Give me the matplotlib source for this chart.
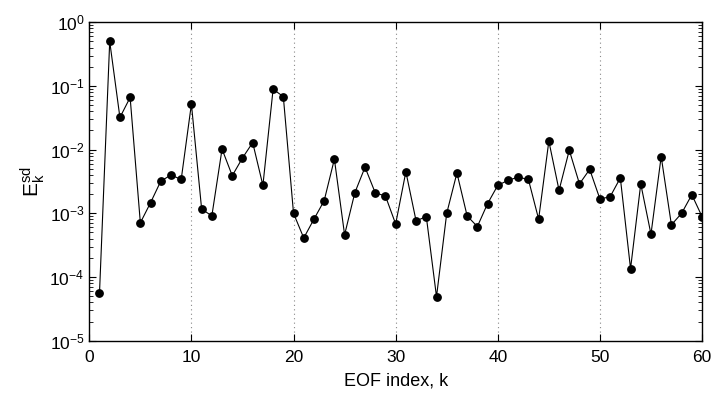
import matplotlib
matplotlib.use("Agg")
import matplotlib.pyplot as plt
from matplotlib.ticker import LogLocator, NullFormatter, FixedLocator

k = list(range(1, 61))
esd = [5.6e-5, 0.50, 0.032, 0.066, 7.1e-4, 1.47e-3, 3.2e-3, 4.0e-3, 3.4e-3, 0.052,
       1.17e-3, 9.1e-4, 0.0102, 3.9e-3, 7.4e-3, 0.0129, 2.75e-3, 0.089, 0.068, 1.0e-3,
       4.1e-4, 8.1e-4, 1.58e-3, 7.1e-3, 4.6e-4, 2.1e-3, 5.3e-3, 2.1e-3, 1.87e-3, 6.8e-4,
       4.5e-3, 7.6e-4, 8.9e-4, 4.9e-5, 1.0e-3, 4.3e-3, 9.1e-4, 6.2e-4, 1.42e-3, 2.75e-3,
       3.3e-3, 3.7e-3, 3.4e-3, 8.1e-4, 0.0136, 2.3e-3, 9.8e-3, 2.9e-3, 4.9e-3, 1.68e-3,
       1.82e-3, 3.6e-3, 1.35e-4, 2.9e-3, 4.7e-4, 7.8e-3, 6.6e-4, 1.0e-3, 1.96e-3, 8.9e-4]
xticks = [0, 10, 20, 30, 40, 50, 60]
grid_x = [10, 20, 30, 40, 50]

plt.rcParams['font.family'] = ['Liberation Sans', 'DejaVu Sans']
plt.rcParams['mathtext.fontset'] = 'custom'
plt.rcParams['mathtext.rm'] = 'Liberation Sans'
plt.rcParams['mathtext.it'] = 'Liberation Sans'

fig = plt.figure(figsize=(7.12, 3.93), dpi=100)
ax = fig.add_axes([0.1254, 0.1331, 0.986 - 0.1254, 0.9433 - 0.1331])

for gx in grid_x:
    ax.axvline(gx, color='#888888', linestyle=(0, (1, 3)), linewidth=0.8, zorder=0)

ax.plot(k, esd, color='black', linewidth=0.8, marker='o', markersize=5.3,
        markerfacecolor='black', markeredgecolor='black', zorder=3)

ax.set_yscale('log')
ax.set_xlim(0, 60)
ax.set_ylim(1e-5, 1e0)
ax.xaxis.set_major_locator(FixedLocator(xticks))
ax.yaxis.set_major_locator(LogLocator(base=10, numticks=10))
ax.yaxis.set_minor_locator(LogLocator(base=10, subs=range(2, 10), numticks=20))
ax.yaxis.set_minor_formatter(NullFormatter())

ax.tick_params(axis='both', which='both', direction='in', top=True, right=True,
               labelsize=12.5, colors='black')
ax.tick_params(axis='both', which='major', length=5, width=0.8)
ax.tick_params(axis='both', which='minor', length=3, width=0.6)
ax.tick_params(axis='x', which='major', pad=7)

for s in ax.spines.values():
    s.set_linewidth(1.0)

ax.set_xlabel('EOF index, k', fontsize=13, labelpad=5)
ax.set_ylabel(r'$\mathregular{E_k^{sd}}$', fontsize=15, labelpad=2)

fig.savefig('out.png', dpi=100)
